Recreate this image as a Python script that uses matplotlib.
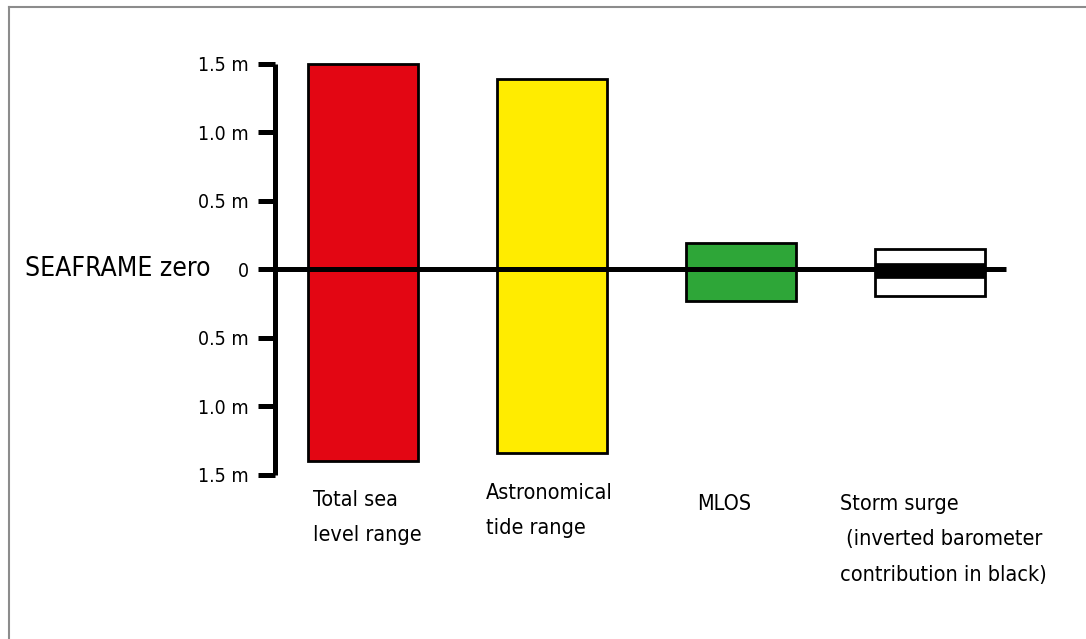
import numpy as np
import matplotlib
matplotlib.use("Agg")
import matplotlib.pyplot as plt
from matplotlib.lines import Line2D

plt.rcParams['font.family'] = ['DejaVu Sans']
plt.rcParams['font.stretch'] = 'condensed'

# ranges in metres relative to SEAFRAME zero
categories = ['Total sea\nlevel range', 'Astronomical\ntide range', 'MLOS',
              'Storm surge\n (inverted barometer\ncontribution in black)']
bar_top = [1.50, 1.39, 0.19, 0.15]
bar_bottom = [-1.40, -1.34, -0.23, -0.20]
bar_colors = ['#e30613', '#ffec00', '#2ea638', 'white']
# inverted barometer part of storm surge
ib_top = 0.045
ib_bottom = -0.065

tick_values = [1.5, 1.0, 0.5, 0, -0.5, -1.0, -1.5]
tick_labels = ['1.5 m', '1.0 m', '0.5 m', '0', '0.5 m', '1.0 m', '1.5 m']

fig = plt.figure(figsize=(10.86, 6.39), dpi=100)
ax = fig.add_axes([0, 0, 1, 1])
ax.set_xlim(-1.921, 3.825)
ax.set_ylim(-2.70, 1.964)

x = np.arange(len(categories))
top = np.array(bar_top)
bottom = np.array(bar_bottom)
ax.bar(x, top - bottom, bottom=bottom, width=0.58, color=bar_colors,
       edgecolor='black', linewidth=2, zorder=2)
ax.bar(x[3], ib_top - ib_bottom, bottom=ib_bottom, width=0.58,
       color='black', edgecolor='black', linewidth=0.5, zorder=3)

# zero line
axis_x = -0.466
ax.plot([axis_x, 3.40], [0, 0], color='black', lw=3.6,
        solid_capstyle='butt', zorder=4)

# left spine as the metre scale
for s in ['top', 'right', 'bottom']:
    ax.spines[s].set_visible(False)
ax.spines['left'].set_position(('data', axis_x))
ax.spines['left'].set_bounds(-1.5, 1.5)
ax.spines['left'].set_linewidth(3.6)
ax.spines['left'].set_capstyle('butt')
ax.set_yticks(tick_values)
ax.set_yticklabels(tick_labels, fontsize=14)
ax.tick_params(axis='y', direction='out', length=12, width=3.6, pad=7)
ax.set_xticks([])

ax.text(-1.79, 0, 'SEAFRAME zero', fontsize=19, va='center', ha='left')

label_dx = [-0.265, -0.35, -0.23, -0.476]
label_top = [-1.61, -1.56, -1.64, -1.64]
for xi, lab, dx, ty in zip(x, categories, label_dx, label_top):
    ax.text(xi + dx, ty, lab, fontsize=15.5, va='top', ha='left',
            linespacing=1.98)

# frame lines on the top and left edge
fig.add_artist(Line2D([9 / 1086, 9 / 1086], [0, 1 - 7 / 639],
                      transform=fig.transFigure, color='#8c8c8c', lw=1.5))
fig.add_artist(Line2D([9 / 1086, 1], [1 - 7 / 639, 1 - 7 / 639],
                      transform=fig.transFigure, color='#8c8c8c', lw=1.5))

fig.savefig('out.png', dpi=100)
